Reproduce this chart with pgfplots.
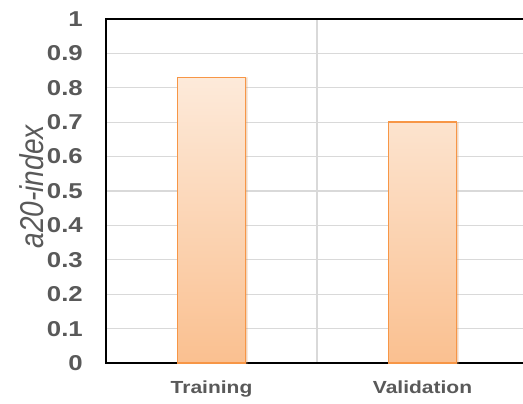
\documentclass[border=0pt]{standalone}
\usepackage{pgfplots}
\pgfplotsset{compat=1.18}
\usetikzlibrary{shadows}
\usepackage{fontspec}
\setmainfont{Liberation Sans}
\newfontfamily\tickfont[FakeStretch=1.2]{Liberation Sans}
\newfontfamily\labfont[FakeStretch=0.85]{Liberation Sans}
\definecolor{txtgray}{HTML}{595959}
\definecolor{gridgray}{HTML}{D9D9D9}
\definecolor{barline}{HTML}{F79646}
\definecolor{bartop}{HTML}{FDEADA}
\definecolor{barbottom}{HTML}{FAC090}

\begin{document}
\begin{tikzpicture}
\begin{axis}[
  scale only axis, width=422bp, height=344bp,
  xmin=0, xmax=2, ymin=0, ymax=1,
  ybar, bar width=68bp,
  xtick={0.5,1.5}, xticklabels={Training,Validation},
  minor xtick={1}, xminorgrids,
  minor x grid style={gridgray, line width=1.2bp},
  ytick={0,0.1,0.2,0.3,0.4,0.5,0.6,0.7,0.8,0.9,1},
  ymajorgrids, major grid style={gridgray, line width=1.2bp},
  major tick length=0pt, minor tick length=0pt,
  axis line style={black, line width=1.5bp},
  yticklabel style={font=\tickfont\bfseries\fontsize{21.5bp}{21.5bp}\selectfont, text=txtgray,
    /pgf/number format/fixed, /pgf/number format/precision=1,
    /pgf/number format/assume math mode=true,
    anchor=east, inner sep=0pt, xshift=-23bp},
  xticklabel style={font=\tickfont\bfseries\fontsize{17.5bp}{17.5bp}\selectfont, text=txtgray,
    anchor=north, inner sep=0pt, yshift=-18bp},
  ylabel={a20-index},
  ylabel style={font=\labfont\itshape\fontsize{33bp}{33bp}\selectfont, text=txtgray,
    at={(rel axis cs:-0.175,0.512)}, anchor=center, inner sep=0pt},
]
\addplot[draw=barline, line width=1.8bp, top color=bartop, bottom color=barbottom,
  drop shadow={opacity=0.18, shadow xshift=1.5bp, shadow yshift=-0.5bp}]
  coordinates {(0.5,0.83) (1.5,0.70)};
\coordinate (bl) at (rel axis cs:0,0);
\end{axis}
\pgfresetboundingbox
\path[use as bounding box] ([shift={(-106bp,-41bp)}]bl) rectangle ++(523bp,404bp);
\end{tikzpicture}
\end{document}
